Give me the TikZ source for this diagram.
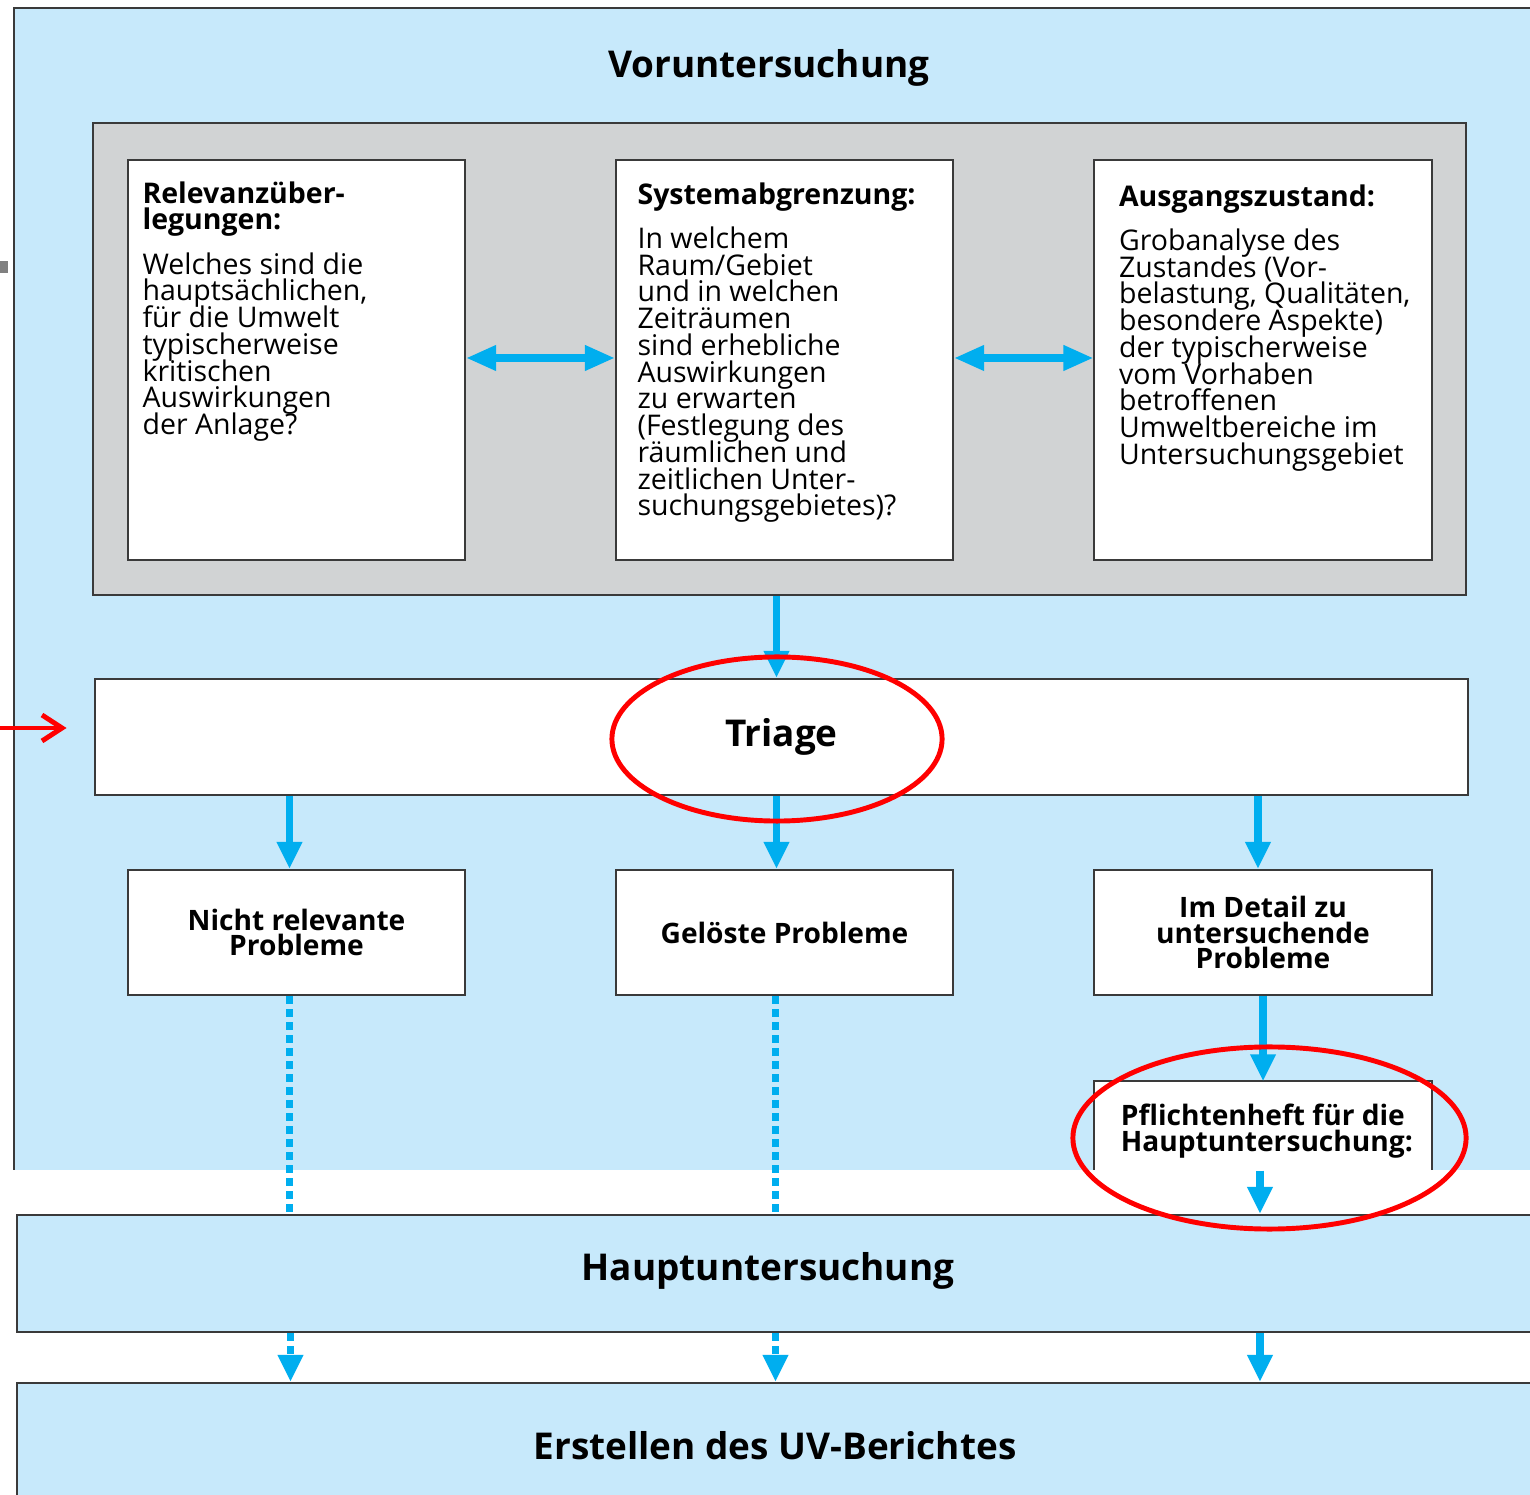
\documentclass[tikz,border=0pt]{standalone}
\usepackage{fontspec}
\setmainfont{Open Sans}
\usetikzlibrary{arrows.meta}

\definecolor{skyfill}{HTML}{C7E9FB}
\definecolor{panelgray}{HTML}{D1D3D4}
\definecolor{flowblue}{HTML}{00AEEF}
\definecolor{framegray}{HTML}{3A3A3A}

\newcommand\tightlines{\lineskiplimit=-\maxdimen\lineskip=0pt}

\begin{document}
\begin{tikzpicture}[x=0.01cm,y=-0.01cm,
  every node/.style={font=\fontsize{8.1}{7.6}\selectfont\tightlines},
  frame/.style={draw=framegray,line width=0.6pt},
  box/.style={frame,fill=white,inner sep=0pt,minimum width=3.37cm},
  txt/.style={anchor=north west,align=left,inner sep=0pt},
  head/.style={font=\fontsize{10.5}{12}\selectfont\bfseries},
  probl/.style={box,minimum height=1.25cm,align=center,font=\fontsize{8}{7.3}\selectfont\bfseries\tightlines},
  flow/.style={draw=flowblue,line width=2pt,-{Triangle[length=0.27cm,width=0.24cm]}},
  twoway/.style={flow,{Triangle[length=0.3cm,width=0.24cm]}-{Triangle[length=0.3cm,width=0.24cm]}},
  dots/.style={draw=flowblue,line width=2.2pt,dash pattern=on 2.3pt off 1.4pt},
  ring/.style={draw=red,line width=1.4pt},
]
\clip (0,0) rectangle (1530,1495);
\fill[white] (0,0) rectangle (1530,1495);

% Voruntersuchung
\node[fill=skyfill,inner sep=0pt,minimum width=15.25cm,minimum height=11.61cm] (vu) at (777.5,589.5) {};
\draw[frame] (vu.south west) -- (vu.north west) -- (vu.north east);
\fill[gray] (0,261) rectangle (8,273);
\node[head] (vut) at (769,68) {Voruntersuchung};

\node[frame,fill=panelgray,inner sep=0pt,minimum width=13.73cm,minimum height=4.72cm] (gb) at (779.5,359) {};

\node[box,minimum height=4cm] (rel) at (296.5,360) {};
\node[box,minimum height=4cm] (sys) at (784.5,360) {};
\node[box,minimum height=4cm] (aus) at (1263,360) {};

\node[txt] (relt) at ([xshift=0.15cm,yshift=-0.22cm]rel.north west)
  {\textbf{Relevanzüber-}\\\textbf{legungen:}\\[5pt]
   Welches sind die\\hauptsächlichen,\\für die Umwelt\\typischerweise\\kritischen\\Auswirkungen\\der Anlage?};
\node[txt] (syst) at ([xshift=0.22cm,yshift=-0.23cm]sys.north west)
  {\textbf{Systemabgrenzung:}\\[5pt]
   In welchem\\Raum/Gebiet\\und in welchen\\Zeiträumen\\sind erhebliche\\Auswirkungen\\zu erwarten\\(Festlegung des\\räumlichen und\\zeitlichen Unter-\\suchungsgebietes)?};
\node[txt] (aust) at ([xshift=0.25cm,yshift=-0.25cm]aus.north west)
  {\textbf{Ausgangszustand:}\\[5pt]
   Grobanalyse des\\Zustandes (Vor-\\belastung, Qualitäten,\\besondere Aspekte)\\der typischerweise\\vom Vorhaben\\betroffenen\\Umweltbereiche im\\Untersuchungsgebiet};

\draw[twoway] ([yshift=0.02cm]rel.east) -- ([yshift=0.02cm]sys.west);
\draw[twoway] ([yshift=0.02cm]sys.east) -- ([yshift=0.02cm]aus.west);

% Triage
\node[frame,fill=white,minimum width=13.73cm,minimum height=1.16cm,head] (tri) at (781.5,737) {Triage};
\draw[flow] ([xshift=-0.03cm]gb.south) -- ([xshift=-0.03cm]gb.south |- tri.north);

\node[probl] (nrp) at (296.5,932.5) {Nicht relevante\\Probleme};
\node[probl] (glp) at (784.5,932.5) {Gelöste Probleme};
\node[probl] (idp) at (1263,932.5) {Im Detail zu\\untersuchende\\Probleme};

\draw[flow] ([xshift=-0.07cm]nrp.north |- tri.south) -- ([xshift=-0.07cm]nrp.north);
\draw[flow] ([xshift=-0.08cm]glp.north |- tri.south) -- ([xshift=-0.08cm]glp.north);
\draw[flow] ([xshift=-0.05cm]idp.north |- tri.south) -- ([xshift=-0.05cm]idp.north);

% Pflichtenheft (unten abgeschnitten)
\node[fill=white,inner sep=0pt,minimum width=3.36cm,minimum height=0.88cm] (pfl) at (1263,1126) {};
\draw[frame] (pfl.south west) -- (pfl.north west) -- (pfl.north east) -- (pfl.south east);
\node[txt,font=\fontsize{8}{7.3}\selectfont\bfseries\tightlines] (pflt) at ([xshift=0.26cm,yshift=-0.22cm]pfl.north west)
  {Pflichtenheft für die\\Hauptuntersuchung:};
\draw[flow] (idp.south) -- (pfl.north);

% Hauptuntersuchung
\fill[white] (0,1170) rectangle (1530,1215);
\node[frame,fill=skyfill,minimum width=15.22cm,minimum height=1.17cm] (hu) at (778,1273.5) {};
\node[head] (hut) at (768,1271) {Hauptuntersuchung};
\node[frame,fill=skyfill,minimum width=15.22cm,minimum height=1.34cm] (uvb) at (778,1450) {};
\node[head] (uvbt) at (775,1446) {Erstellen des UV-Berichtes};

\draw[dots] ([xshift=-0.07cm]nrp.south) -- ([xshift=-0.07cm]nrp.south |- hu.north);
\draw[dots] ([xshift=-0.09cm]glp.south) -- ([xshift=-0.09cm]glp.south |- hu.north);
\draw[flow] ([xshift=-0.03cm]pfl.south) -- ([xshift=-0.03cm]pfl.south |- hu.north);

\draw[dots,-{Triangle[length=0.27cm,width=0.24cm]}] ([xshift=-0.06cm]nrp.south |- hu.south) -- ([xshift=-0.06cm]nrp.south |- uvb.north);
\draw[dots,-{Triangle[length=0.27cm,width=0.24cm]}] ([xshift=-0.09cm]glp.south |- hu.south) -- ([xshift=-0.09cm]glp.south |- uvb.north);
\draw[flow] ([xshift=-0.03cm]idp.south |- hu.south) -- ([xshift=-0.03cm]idp.south |- uvb.north);

% Markierungen
\draw[ring] (777,739) ellipse [x radius=1.65cm,y radius=0.82cm];
\draw[ring] (1269.5,1138) ellipse [x radius=1.965cm,y radius=0.91cm];
\coordinate (redin) at (0,728);
\draw[ring,line cap=round,line join=round,shorten >=0.27cm,-{Straight Barb[length=0.2cm,width=0.26cm]}] (redin) -- (redin -| tri.west);
\end{tikzpicture}
\end{document}
